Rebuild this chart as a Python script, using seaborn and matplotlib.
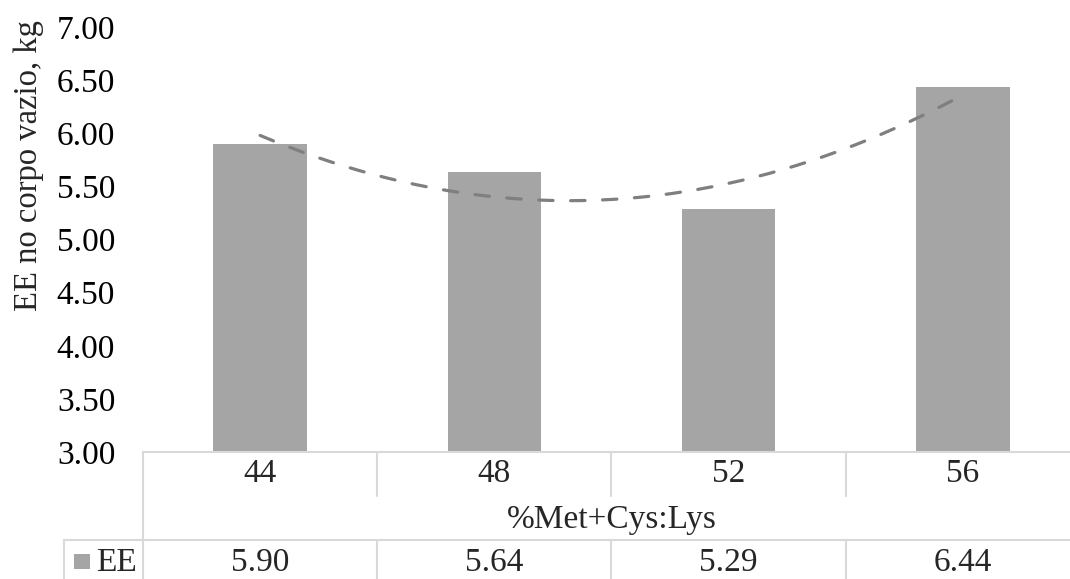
import numpy as np
import pandas as pd
import seaborn as sns
import matplotlib
matplotlib.use("Agg")
import matplotlib.pyplot as plt
from matplotlib.lines import Line2D
from matplotlib.patches import Rectangle
import matplotlib.transforms as mtransforms

# ---- data ----
categories = ["44", "48", "52", "56"]
ee_values = [5.90, 5.64, 5.29, 6.44]
value_labels = ["5.90", "5.64", "5.29", "6.44"]
y_ticks = [3.00, 3.50, 4.00, 4.50, 5.00, 5.50, 6.00, 6.50, 7.00]
series_name = "EE"
x_title = "%Met+Cys:Lys"
y_title = "EE no corpo vazio, kg"

sns.set_theme(style="white")
plt.rcParams["font.family"] = ["Liberation Serif", "DejaVu Serif"]

FS = 24
BAR_C = "#a5a5a5"
LINE_C = "#7f7f7f"
GRID_C = "#d9d9d9"

W, H = 1070, 579
fig = plt.figure(figsize=(W / 100, H / 100), dpi=100)
ax_left, ax_right = 143 / W, 1080 / W
ax_bottom, ax_top = (H - 452) / H, (H - 27) / H
ax = fig.add_axes([ax_left, ax_bottom, ax_right - ax_left, ax_top - ax_bottom])

df = pd.DataFrame({"cat": categories, "val": ee_values})
sns.barplot(data=df, x="cat", y="val", color=BAR_C, saturation=1, width=0.40,
            ax=ax, zorder=2)
for p in ax.patches:
    p.set_edgecolor("none")

# polynomial (order 2) trendline, as in the source chart
xi = np.arange(len(ee_values))
coef = np.polyfit(xi, ee_values, 2)
xs = np.linspace(0, len(ee_values) - 1, 200)
ax.plot(xs, np.polyval(coef, xs), color=LINE_C, lw=2.3, ls=(0, (4.5, 5.5)),
        dash_capstyle="round", zorder=3)

ax.set_ylim(3.0, 7.0)
ax.set_xlim(-0.5, len(categories) - 0.5)
ax.set_yticks(y_ticks)
ax.set_yticklabels([f"{t:.2f}" for t in y_ticks], fontsize=FS, color="black")
ax.tick_params(axis="y", length=0, pad=20)
ax.set_xticks([])
ax.set_xlabel("")
ax.set_ylabel("")
for s in ax.spines.values():
    s.set_visible(False)

# ---- data table beneath the axis ----
bt = mtransforms.blended_transform_factory(ax.transData, ax.transAxes)
def ay(py):  # pixel row -> axes fraction
    return (H - py - (H - 452)) / (452 - 27)

y0, y1, y2, y3 = ay(452), ay(496), ay(540), ay(H + 5)
n = len(categories)
ax.add_line(Line2D([-0.5, n - 0.5], [y0, y0], transform=bt, color=GRID_C, lw=1.5, clip_on=False))
for b in range(n + 1):
    xb = b - 0.5
    ax.add_line(Line2D([xb, xb], [y0, y1 if b > 0 else y2], transform=bt, color=GRID_C,
                       lw=1.5, clip_on=False))
    ax.add_line(Line2D([xb, xb], [y2, y3], transform=bt, color=GRID_C, lw=1.5, clip_on=False))
for i, c in enumerate(categories):
    ax.text(i, ay(474), c, transform=bt, ha="center", va="center", fontsize=FS)
    ax.text(i, ay(563), value_labels[i], transform=bt, ha="center", va="center", fontsize=FS)
ax.text((n - 1) / 2, ay(520), x_title, transform=bt, ha="center", va="center", fontsize=FS)

# legend cell (figure pixel coords)
fig.add_artist(Line2D([64 / W, 1.0], [(H - 540) / H] * 2, color=GRID_C, lw=1.5))
fig.add_artist(Line2D([64 / W, 64 / W], [(H - 540) / H, 0], color=GRID_C, lw=1.5))
fig.add_artist(Rectangle((74 / W, (H - 569) / H), 16 / W, 15 / H, color=BAR_C, lw=0))
fig.text(96 / W, (H - 563) / H, series_name, ha="left", va="center", fontsize=FS)

fig.text(29 / W, (H - 166) / H, y_title, rotation=90, ha="center", va="center", fontsize=23.5)

fig.savefig("out.png", dpi=100)
